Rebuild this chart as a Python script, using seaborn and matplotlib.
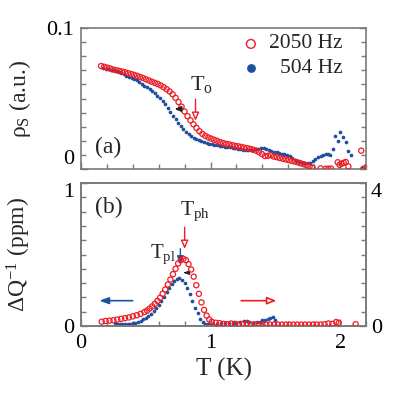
import numpy as np
import pandas as pd
import matplotlib
matplotlib.use("Agg")
import matplotlib.pyplot as plt
import seaborn as sns
from matplotlib.ticker import MultipleLocator
from matplotlib import font_manager

# ---- data ----
# (a) superfluid density, 2050 Hz (open red circles)
t_a_2050 = [0.155, 0.178, 0.201, 0.224, 0.247, 0.270, 0.293, 0.316, 0.339, 0.362,
            0.385, 0.408, 0.431, 0.454, 0.477, 0.500, 0.523, 0.546, 0.569, 0.592,
            0.615, 0.638, 0.661, 0.684, 0.707, 0.730, 0.753, 0.776, 0.799, 0.822,
            0.845, 0.868, 0.891, 0.914, 0.937, 0.960, 0.983, 1.006, 1.029, 1.052,
            1.075, 1.098, 1.121, 1.144, 1.167, 1.190, 1.213, 1.236, 1.259, 1.282,
            1.305, 1.328, 1.351, 1.374, 1.397, 1.420, 1.443, 1.466, 1.489, 1.512,
            1.535, 1.558, 1.581, 1.604, 1.627, 1.650, 1.673, 1.696, 1.719, 1.742,
            1.765, 1.788, 1.850, 1.890, 1.910, 1.930, 1.982, 1.996, 2.012, 2.028,
            2.044, 2.064, 2.163, 2.180, 2.205]
rho_2050 = [.0730, .0725, .0719, .0713, .0706, .0701, .0696, .0691, .0686, .0680,
            .0674, .0668, .0661, .0653, .0646, .0637, .0628, .0619, .0611, .0603,
            .0593, .0580, .0566, .0550, .0530, .0505, .0475, .0442, .0408, .0375,
            .0345, .0317, .0292, .0268, .0249, .0235, .0224, .0215, .0207, .0199,
            .0190, .0184, .0178, .0175, .0169, .0164, .0161, .0157, .0152, .0148,
            .0143, .0137, .0130, .0120, .0106, .0092, .0094, .0098, .0088, .0084,
            .0078, .0073, .0068, .0063, .0058, .0052, .0047, .0040, .0034, .0027,
            .0020, .0010, .0005, .0002, .0002, .0003, .0048, .0030, .0038, .0044,
            .0050, .0018, .0130, .0002, .0014]

# (a) superfluid density, 504 Hz (filled blue dots)
t_a_504 = [0.17, 0.19, 0.21, 0.23, 0.25, 0.27, 0.29, 0.31, 0.33, 0.35,
           0.37, 0.39, 0.41, 0.43, 0.45, 0.47, 0.49, 0.51, 0.53, 0.55,
           0.57, 0.59, 0.61, 0.63, 0.65, 0.67, 0.69, 0.71, 0.73, 0.75,
           0.77, 0.79, 0.81, 0.83, 0.85, 0.87, 0.89, 0.91, 0.93, 0.95,
           0.97, 0.99, 1.01, 1.03, 1.05, 1.07, 1.09, 1.11, 1.13, 1.15,
           1.17, 1.19, 1.21, 1.23, 1.25, 1.27, 1.29, 1.31, 1.33, 1.35,
           1.37, 1.39, 1.41, 1.43, 1.45, 1.47, 1.49, 1.51, 1.53, 1.55,
           1.57, 1.59, 1.61, 1.63, 1.65, 1.67, 1.69, 1.71, 1.73, 1.75,
           1.77, 1.79, 1.81, 1.83, 1.85, 1.87, 1.89, 1.905, 1.925, 1.943,
           1.964, 1.982, 2.002, 2.023, 2.044, 2.064, 2.085, 2.168]
rho_504 = [.0716, .0712, .0708, .0704, .0699, .0694, .0689, .0681, .0672, .0663,
           .0654, .0646, .0638, .0628, .0617, .0604, .0591, .0578, .0564, .0551,
           .0536, .0520, .0503, .0484, .0460, .0432, .0402, .0378, .0352, .0328,
           .0306, .0284, .0264, .0247, .0233, .0222, .0214, .0207, .0198, .0190,
           .0183, .0178, .0174, .0171, .0168, .0165, .0162, .0159, .0156, .0153,
           .0150, .0147, .0143, .0139, .0136, .0134, .0134, .0135, .0136, .0139,
           .0143, .0147, .0148, .0145, .0138, .0130, .0124, .0118, .0113, .0109,
           .0104, .0098, .0090, .0080, .0066, .0054, .0047, .0042, .0040, .0040,
           .0046, .0060, .0073, .0083, .0091, .0098, .0104, .0107, .0099, .0142,
           .0234, .0201, .0265, .0225, .0191, .0128, .0099, .0010]

# (b) internal friction, 2050 Hz on right axis (0-4)
t_b_2050 = [0.16, 0.19, 0.22, 0.25, 0.28, 0.31, 0.34, 0.37, 0.40, 0.43,
            0.46, 0.49, 0.51, 0.53, 0.55, 0.57, 0.59, 0.61, 0.63, 0.65,
            0.67, 0.69, 0.71, 0.73, 0.75, 0.77, 0.79, 0.81, 0.83, 0.85,
            0.87, 0.89, 0.91, 0.93, 0.95, 0.97, 0.99, 1.01, 1.04, 1.07,
            1.10, 1.13, 1.16, 1.19, 1.22, 1.25, 1.28, 1.31, 1.34, 1.37,
            1.40, 1.43, 1.46, 1.49, 1.52, 1.55, 1.58, 1.61, 1.64, 1.67,
            1.70, 1.73, 1.76, 1.79, 1.82, 1.85, 1.88, 1.91, 1.94, 1.97,
            1.99, 2.12]
dq_2050 = [0.12, 0.14, 0.15, 0.16, 0.18, 0.20, 0.22, 0.24, 0.27, 0.30,
           0.34, 0.39, 0.43, 0.49, 0.55, 0.62, 0.70, 0.79, 0.90, 1.02,
           1.16, 1.30, 1.45, 1.60, 1.75, 1.84, 1.88, 1.84, 1.73, 1.58,
           1.38, 1.14, 0.90, 0.66, 0.45, 0.29, 0.18, 0.12, 0.09, 0.08,
           0.06, 0.05, 0.07, 0.06, 0.05, 0.06, 0.06, 0.04, 0.05, 0.04,
           0.04, 0.04, 0.04, 0.04, 0.04, 0.04, 0.04, 0.04, 0.04, 0.04,
           0.04, 0.04, 0.04, 0.04, 0.04, 0.04, 0.05, 0.07, 0.06, 0.11,
           0.09, 0.05]

# (b) internal friction, 504 Hz on left axis (0-1)
t_b_504 = [0.26, 0.28, 0.30, 0.32, 0.34, 0.36, 0.38, 0.40, 0.42, 0.44,
           0.46, 0.48, 0.50, 0.52, 0.54, 0.56, 0.58, 0.60, 0.62, 0.64,
           0.66, 0.68, 0.70, 0.72, 0.74, 0.76, 0.78, 0.80, 0.82, 0.84,
           0.86, 0.88, 0.90, 0.92, 0.94, 0.96, 0.98, 1.00, 1.02, 1.05,
           1.08, 1.11, 1.14, 1.17, 1.20, 1.23, 1.26, 1.28, 1.30, 1.33,
           1.36, 1.38, 1.40, 1.42, 1.44, 1.46, 1.48, 1.50]
dq_504 = [.019, .017, .016, .015, .015, .015, .016, .019, .024, .030,
          .038, .048, .058, .070, .085, .103, .124, .148, .175, .205,
          .237, .268, .295, .316, .330, .334, .325, .300, .268, .225,
          .172, .128, .088, .052, .028, .017, .012, .010, .012, .014,
          .018, .020, .018, .022, .020, .026, .034, .037, .030, .024,
          .028, .030, .040, .043, .048, .058, .065, .044]

labels = ["2050 Hz", "504 Hz"]

RED = "#ee1c25"
BLUE = "#1f4f9e"
GREY = "#7a7a7a"

sns.set_style("ticks")
names = {f.name for f in font_manager.fontManager.ttflist}
serif = next((n for n in ["Liberation Serif", "Times New Roman", "STIXGeneral",
                          "DejaVu Serif"] if n in names), "serif")
plt.rcParams["font.family"] = [serif, "DejaVu Serif"]
plt.rcParams["mathtext.fontset"] = "custom"
plt.rcParams["mathtext.rm"] = serif
plt.rcParams["mathtext.it"] = serif + ":italic"
plt.rcParams["axes.edgecolor"] = GREY
plt.rcParams["axes.linewidth"] = 1.2
for a in ("x", "y"):
    plt.rcParams[f"{a}tick.color"] = GREY
    plt.rcParams[f"{a}tick.labelcolor"] = "black"
    plt.rcParams[f"{a}tick.direction"] = "in"
    plt.rcParams[f"{a}tick.major.size"] = 5
    plt.rcParams[f"{a}tick.minor.size"] = 3.5
    plt.rcParams[f"{a}tick.major.width"] = 1.0
    plt.rcParams[f"{a}tick.minor.width"] = 1.0
    plt.rcParams[f"{a}tick.labelsize"] = 16

fig = plt.figure(figsize=(4.0, 3.94), dpi=100)
ax1 = fig.add_axes([0.2025, 0.571, 0.7125, 0.358])
ax2 = fig.add_axes([0.2025, 0.1726, 0.7125, 0.3629])
ax2r = ax2.twinx()

df_a_red = pd.DataFrame({"T": t_a_2050, "rho": rho_2050})
df_a_blue = pd.DataFrame({"T": t_a_504, "rho": rho_504})
df_b_red = pd.DataFrame({"T": t_b_2050, "dq": dq_2050})
df_b_blue = pd.DataFrame({"T": t_b_504, "dq": dq_504})

# panel (a)
sns.scatterplot(data=df_a_blue, x="T", y="rho", ax=ax1, color=BLUE, s=7,
                linewidth=0, zorder=2)
sns.scatterplot(data=df_a_red, x="T", y="rho", ax=ax1, marker="o", s=14,
                facecolors="none", edgecolor=RED, linewidth=0.9, zorder=3)
ax1.set_xlim(0, 2.2)
ax1.set_ylim(0, 0.1)
ax1.set_yticks([0, 0.1])
ax1.set_yticklabels(["0", "0.1"])
ax1.yaxis.set_minor_locator(MultipleLocator(0.01))
ax1.set_xticks([0, 1, 2])
ax1.xaxis.set_minor_locator(MultipleLocator(0.2))
ax1.tick_params(axis="x", labelbottom=False)
ax1.tick_params(axis="y", which="both", right=True, pad=5)
ax1.get_yticklabels()[0].set_va("bottom")
ax1.set_xlabel("")
ax1.set_ylabel(r"ρ$_\mathrm{S}$ (a.u.)", fontsize=17)
ax1.yaxis.set_label_coords(-0.17, 0.5)

# legend drawn by hand so the text is right-aligned
ax1.scatter([0.596], [0.887], s=40, facecolors="none", edgecolors=RED,
            linewidths=1.0, transform=ax1.transAxes, clip_on=False)
ax1.scatter([0.596], [0.716], s=40, color=BLUE, linewidths=0,
            transform=ax1.transAxes, clip_on=False)
ax1.text(0.918, 0.887, labels[0], transform=ax1.transAxes, ha="right",
         va="center", fontsize=15.5)
ax1.text(0.918, 0.716, labels[1], transform=ax1.transAxes, ha="right",
         va="center", fontsize=15.5)

ax1.text(0.05, 0.155, "(a)", transform=ax1.transAxes, fontsize=17, va="center")
ax1.text(0.845, 0.060, r"T$_\mathrm{o}$", fontsize=16, va="center")
ax1.annotate("", xy=(0.884, 0.0322), xytext=(0.884, 0.0515),
             arrowprops=dict(arrowstyle="-|>,head_length=0.5,head_width=0.22",
                             fc="white", ec=RED, lw=1.0))
ax1.annotate("", xy=(0.70, 0.0426), xytext=(0.79, 0.0426),
             arrowprops=dict(arrowstyle="-|>,head_length=0.35,head_width=0.15",
                             fc="#222222", ec="#222222", lw=1.3))

# panel (b)
sns.scatterplot(data=df_b_blue, x="T", y="dq", ax=ax2, color=BLUE, s=7,
                linewidth=0, zorder=2)
sns.scatterplot(data=df_b_red, x="T", y="dq", ax=ax2r, marker="o", s=14,
                facecolors="none", edgecolor=RED, linewidth=0.9, zorder=3)
ax2.set_xlim(0, 2.2)
ax2.set_ylim(0, 1)
ax2r.set_ylim(0, 4)
ax2.set_yticks([0, 1])
ax2.set_yticklabels(["0", "1"])
ax2.yaxis.set_minor_locator(MultipleLocator(0.1))
ax2r.set_yticks([0, 4])
ax2r.set_yticklabels(["0", "4"])
ax2r.yaxis.set_minor_locator(MultipleLocator(0.4))
ax2.get_yticklabels()[1].set_va("top")
ax2r.get_yticklabels()[1].set_va("top")
ax2.tick_params(axis="y", pad=5)
ax2.set_xticks([0, 1, 2])
ax2.set_xticklabels(["0", "1", "2"])
ax2.xaxis.set_minor_locator(MultipleLocator(0.2))
ax2.tick_params(axis="x", pad=6)
ax2.set_xlabel("T (K)", fontsize=18, labelpad=3)
ax2.set_ylabel(r"ΔQ$^{-1}$ (ppm)", fontsize=17)
ax2.yaxis.set_label_coords(-0.17, 0.5)
ax2r.set_ylabel("")
for s in ax2r.spines.values():
    s.set_edgecolor(GREY)

ax2.text(0.05, 0.83, "(b)", transform=ax2.transAxes, fontsize=17, va="center")
ax2.text(0.53, 0.50, r"T$_\mathrm{pl}$", fontsize=15, va="center")
ax2.text(0.765, 0.80, r"T$_\mathrm{ph}$", fontsize=15.5, va="center")
ax2.annotate("", xy=(0.767, 0.41), xytext=(0.767, 0.56),
             arrowprops=dict(arrowstyle="-|>,head_length=0.5,head_width=0.2",
                             fc=BLUE, ec=BLUE, lw=1.0))
ax2.annotate("", xy=(0.80, 0.52), xytext=(0.80, 0.71),
             arrowprops=dict(arrowstyle="-|>,head_length=0.5,head_width=0.22",
                             fc="white", ec=RED, lw=1.0))
ax2.annotate("", xy=(0.77, 0.373), xytext=(0.83, 0.373),
             arrowprops=dict(arrowstyle="-|>,head_length=0.3,head_width=0.12",
                             fc="#222222", ec="#222222", lw=1.0))
ax2.annotate("", xy=(0.12, 0.177), xytext=(0.42, 0.177),
             arrowprops=dict(arrowstyle="-|>,head_length=0.55,head_width=0.2",
                             fc=BLUE, ec=BLUE, lw=1.2))
ax2.annotate("", xy=(1.53, 0.177), xytext=(1.215, 0.177),
             arrowprops=dict(arrowstyle="-|>,head_length=0.55,head_width=0.22",
                             fc="white", ec=RED, lw=1.2))

fig.savefig("out.png", dpi=100)
